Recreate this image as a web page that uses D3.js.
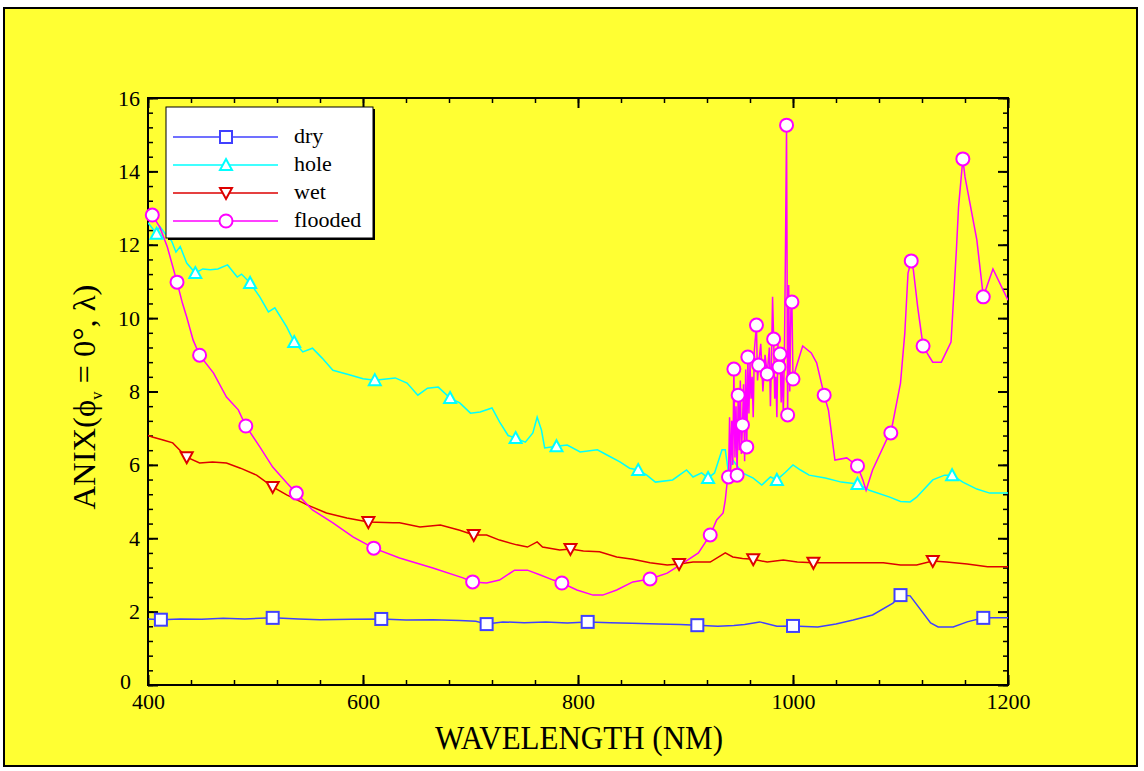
<!DOCTYPE html>
<html>
<head>
<meta charset="utf-8">
<script src="https://cdn.jsdelivr.net/npm/d3@7.9.0/dist/d3.min.js"></script>
<style>
  body { margin: 0; background: #fff; }
  svg { display: block; }
</style>
</head>
<body>
<svg id="chart" width="1144" height="771"></svg>
<script>
// series values: [wavelength nm, ANIX]
const seriesNames = ['dry', 'hole', 'wet', 'flooded'];

const dry = [
  [400,1.80],[412,1.78],[430,1.80],[450,1.79],[470,1.82],[490,1.80],[516,1.83],[540,1.80],
  [560,1.78],[590,1.79],[617,1.80],[640,1.77],[665,1.78],[690,1.76],[705,1.74],[715,1.66],
  [730,1.72],[750,1.70],[770,1.72],[790,1.69],[809,1.72],[830,1.70],[850,1.68],[875,1.66],
  [895,1.65],[911,1.63],[930,1.60],[945,1.62],[955,1.65],[969,1.72],[985,1.60],[1000,1.61],
  [1023,1.58],[1040,1.66],[1056,1.77],[1074,1.91],[1093,2.23],[1100,2.45],[1109,2.43],
  [1128,1.69],[1135,1.58],[1149,1.58],[1162,1.72],[1177,1.83],[1200,1.83]
];
const dryMarks = [412,516,617,715,809,911,1000,1100,1177];

const hole = [
  [400,12.6],[404,12.45],[408,12.3],[411,12.5],[416,12.3],[422,12.1],[426,11.8],[430,11.95],
  [436,11.5],[444,11.23],[451,11.34],[458,11.32],[465,11.34],[474,11.45],[483,11.12],[487,11.2],
  [495,10.96],[504,10.58],[512,10.17],[518,10.28],[529,9.76],[536,9.35],[544,9.08],[553,9.18],
  [562,8.91],[572,8.58],[588,8.45],[600,8.35],[611,8.31],[630,8.37],[641,8.23],[651,7.90],
  [660,8.09],[670,8.12],[681,7.82],[690,7.69],[700,7.41],[709,7.44],[720,7.55],[727,7.17],
  [735,6.80],[742,6.73],[751,6.62],[758,6.87],[762,7.30],[766,6.95],[769,6.46],[780,6.51],
  [790,6.54],[802,6.35],[818,6.41],[827,6.27],[839,6.08],[848,5.91],[856,5.86],[864,5.72],
  [872,5.53],[888,5.59],[901,5.86],[907,5.67],[915,5.78],[921,5.64],[927,5.78],[934,6.41],
  [937,6.41],[940,5.78],[944,6.13],[953,5.78],[963,5.64],[971,5.45],[979,5.67],[985,5.59],
  [993,5.80],[1000,6.00],[1007,5.86],[1015,5.72],[1030,5.64],[1045,5.53],[1060,5.48],
  [1071,5.31],[1090,5.12],[1100,5.00],[1109,4.99],[1115,5.12],[1130,5.59],[1141,5.72],
  [1148,5.72],[1158,5.53],[1171,5.34],[1183,5.23],[1200,5.23]
];
const holeMarks = [408,444,495,536,611,681,742,780,856,921,985,1060,1148];

const wet = [
  [400,6.80],[404,6.76],[414,6.68],[423,6.60],[436,6.21],[448,6.05],[460,6.08],[473,6.05],
  [486,5.91],[501,5.72],[516,5.40],[529,5.18],[548,4.91],[566,4.69],[585,4.55],[605,4.44],
  [628,4.42],[634,4.42],[653,4.31],[672,4.36],[690,4.22],[703,4.09],[715,4.09],[727,3.95],
  [743,3.82],[753,3.76],[762,3.90],[767,3.76],[783,3.68],[793,3.71],[805,3.65],[820,3.63],
  [836,3.49],[851,3.43],[867,3.33],[883,3.27],[894,3.30],[907,3.35],[923,3.35],[937,3.60],
  [944,3.49],[953,3.45],[963,3.43],[976,3.35],[991,3.41],[1004,3.35],[1019,3.33],[1050,3.33],
  [1084,3.33],[1100,3.27],[1115,3.27],[1130,3.38],[1143,3.35],[1162,3.30],[1181,3.22],[1200,3.22]
];
const wetMarks = [436,516,605,703,793,894,963,1019,1130];

const flooded = [
  [400,12.85],[404,12.81],[411,12.48],[418,11.94],[427,10.98],[432,10.41],[436,10.03],[442,9.40],
  [448,8.99],[461,8.50],[473,7.85],[484,7.50],[491,7.06],[504,6.49],[516,5.94],[529,5.51],
  [538,5.23],[553,4.77],[572,4.42],[591,4.03],[610,3.73],[634,3.46],[665,3.19],[693,2.92],
  [702,2.81],[715,2.78],[727,2.86],[741,3.13],[753,3.13],[765,3.00],[777,2.86],[785,2.78],
  [799,2.59],[814,2.45],[823,2.45],[836,2.59],[851,2.81],[867,2.89],[883,3.05],[898,3.33],
  [912,3.60],[923,4.09],[929,4.50],[935,4.69],[937,5.04],[939,5.59],
  [940,5.67],[941,7.3],[942,5.8],[943,7.2],[944,6.0],[945,8.61],[946,6.2],[947,7.6],[948,5.72],
  [949,7.90],[950,6.4],[951,8.3],[952,6.3],[953,7.09],[954,8.2],[955,6.1],[956,8.6],[957,6.49],
  [958,8.94],[959,7.4],[960,8.8],[961,7.8],[962,8.4],[963,7.3],[964,9.1],[966,9.81],[967,8.3],
  [968,8.72],[970,9.3],[972,8.0],[974,9.0],[976,8.48],[978,9.2],[979,7.6],[980,8.9],[981,10.58],
  [982,9.43],[983,7.8],[984,8.4],[985,7.3],[986,9.3],[987,8.67],[988,9.02],[989,7.7],[990,8.6],
  [991,7.4],[992,9.0],[993,11.9],[994,15.26],[995,7.36],[996,10.9],[997,8.0],[998,10.2],
  [999,10.44],[1000,8.34],[1003,8.67],[1009,9.24],[1017,9.05],[1022,8.78],[1029,7.90],
  [1033,7.49],[1039,6.13],[1050,6.19],[1060,5.97],[1065,5.59],[1068,5.31],[1074,5.86],
  [1087,6.68],[1091,6.87],[1100,8.23],[1104,9.59],[1107,11.23],[1110,11.56],[1112,11.31],
  [1116,10.30],[1121,9.24],[1127,8.94],[1130,8.80],[1138,8.80],[1147,9.35],[1152,11.86],
  [1154,13.03],[1158,14.34],[1160,13.85],[1171,12.13],[1176,10.85],[1177,10.58],[1186,11.34],
  [1200,10.49]
];
const floodedMarks = [404,427,448,491,538,610,702,785,867,923,940,945,948,949,953,957,958,966,
  968,976,982,987,988,994,995,999,1000,1029,1060,1091,1110,1121,1158,1177];

const xTicks = [400, 600, 800, 1000, 1200];
const yTicks = [0, 2, 4, 6, 8, 10, 12, 14, 16];

const colors = ['#4040ff', '#00ffff', '#dd0000', '#ff00ff'];
const shapes = ['square', 'up', 'down', 'circle'];

const serif = '"Liberation Serif", "Times New Roman", serif';

const svg = d3.select('#chart');

// background panel with black border
svg.append('rect')
  .attr('x', 4).attr('y', 8).attr('width', 1133).attr('height', 758)
  .attr('fill', '#ffff33').attr('stroke', '#000').attr('stroke-width', 2);

const x = d3.scaleLinear().domain([400, 1200]).range([148, 1008]);
const y = d3.scaleLinear().domain([0, 16]).range([685, 98]);

const xMinor = d3.range(400, 1201, 40);
const yMinor = d3.range(0, 16.01, 0.4);

function styleAxis(g) {
  g.select('.domain').remove();
  g.selectAll('text').attr('font-family', serif).attr('font-size', 22).attr('fill', '#000');
  g.selectAll('line').attr('stroke', '#000');
}

// minor ticks
svg.append('g').attr('transform', 'translate(0,685)')
  .call(d3.axisBottom(x).tickValues(xMinor).tickSize(-5).tickFormat(''))
  .call(styleAxis).selectAll('line').attr('stroke-width', 1.5);
svg.append('g').attr('transform', 'translate(0,98)')
  .call(d3.axisTop(x).tickValues(xMinor).tickSize(-5).tickFormat(''))
  .call(styleAxis).selectAll('line').attr('stroke-width', 1.5);
svg.append('g').attr('transform', 'translate(148,0)')
  .call(d3.axisLeft(y).tickValues(yMinor).tickSize(-5).tickFormat(''))
  .call(styleAxis).selectAll('line').attr('stroke-width', 1.5);
svg.append('g').attr('transform', 'translate(1008,0)')
  .call(d3.axisRight(y).tickValues(yMinor).tickSize(-5).tickFormat(''))
  .call(styleAxis).selectAll('line').attr('stroke-width', 1.5);

// major ticks with labels
svg.append('g').attr('transform', 'translate(0,685)')
  .call(d3.axisBottom(x).tickValues(xTicks).tickSizeInner(-10).tickSizeOuter(0).tickPadding(8).tickFormat(d3.format('d')))
  .call(styleAxis).selectAll('line').attr('stroke-width', 2);
svg.append('g').attr('transform', 'translate(0,98)')
  .call(d3.axisTop(x).tickValues(xTicks).tickSize(-10).tickFormat(''))
  .call(styleAxis).selectAll('line').attr('stroke-width', 2);
const yAxisG = svg.append('g').attr('transform', 'translate(148,0)')
  .call(d3.axisLeft(y).tickValues(yTicks).tickSizeInner(-10).tickSizeOuter(0).tickPadding(8).tickFormat(d3.format('d')))
  .call(styleAxis);
yAxisG.selectAll('line').attr('stroke-width', 2);
// the zero label is nudged up and left so it clears the "400" below it
yAxisG.selectAll('text').filter(d => d === 0).attr('dy', '0.18em').attr('dx', -9);
svg.append('g').attr('transform', 'translate(1008,0)')
  .call(d3.axisRight(y).tickValues(yTicks).tickSize(-10).tickFormat(''))
  .call(styleAxis).selectAll('line').attr('stroke-width', 2);

// plot frame
svg.append('rect')
  .attr('x', 148).attr('y', 98).attr('width', 860).attr('height', 587)
  .attr('fill', 'none').attr('stroke', '#000').attr('stroke-width', 2);

// axis titles
svg.append('text')
  .attr('x', 579).attr('y', 749)
  .attr('text-anchor', 'middle')
  .attr('font-family', serif).attr('font-size', 34)
  .attr('textLength', 288).attr('lengthAdjust', 'spacingAndGlyphs')
  .text('WAVELENGTH (NM)');

const yTitle = svg.append('text')
  .attr('transform', 'translate(95,397) rotate(-90)')
  .attr('text-anchor', 'middle')
  .attr('font-family', serif).attr('font-size', 32)
  .attr('textLength', 225).attr('lengthAdjust', 'spacingAndGlyphs');
yTitle.append('tspan').text('ANIX(\u03D5');
yTitle.append('tspan').attr('font-size', 16).attr('dy', 7).text('v');
yTitle.append('tspan').attr('dy', -7).text(' = 0\u00B0, \u03BB)');

svg.append('clipPath').attr('id', 'plot-clip')
  .append('rect').attr('x', 148).attr('y', 98).attr('width', 860).attr('height', 587);

const line = d3.line().x(d => x(d[0])).y(d => y(d[1]));

function marker(g, shape, color) {
  if (shape === 'square') {
    g.append('rect').attr('x', -6).attr('y', -6).attr('width', 12).attr('height', 12);
  } else if (shape === 'circle') {
    g.append('circle').attr('r', 6.5);
  } else if (shape === 'up') {
    g.append('path').attr('d', 'M0,-6L6,5L-6,5Z');
  } else {
    g.append('path').attr('d', 'M0,6L6,-5L-6,-5Z');
  }
  g.selectAll('*').attr('fill', '#fff').attr('stroke', color).attr('stroke-width', 2);
}

const allSeries = [dry, hole, wet, flooded];
const allMarks = [dryMarks, holeMarks, wetMarks, floodedMarks];

const plot = svg.append('g').attr('clip-path', 'url(#plot-clip)');

allSeries.forEach((data, idx) => {
  plot.append('path')
    .attr('d', line(data))
    .attr('fill', 'none')
    .attr('stroke', colors[idx])
    .attr('stroke-width', 1.5);
});

allSeries.forEach((data, idx) => {
  const pts = data.filter(d => allMarks[idx].includes(d[0]));
  pts.forEach(d => {
    const g = svg.append('g').attr('transform', `translate(${x(d[0])},${y(d[1])})`);
    marker(g, shapes[idx], colors[idx]);
  });
});

// legend
const legend = svg.append('g');
legend.append('rect')
  .attr('x', 168).attr('y', 109).attr('width', 207).attr('height', 131)
  .attr('fill', '#000');
legend.append('rect')
  .attr('x', 166).attr('y', 107).attr('width', 207).attr('height', 131)
  .attr('fill', '#fff').attr('stroke', '#000').attr('stroke-width', 1);

seriesNames.forEach((name, idx) => {
  const ly = 137 + idx * 28;
  legend.append('line')
    .attr('x1', 173).attr('x2', 278).attr('y1', ly).attr('y2', ly)
    .attr('stroke', colors[idx]).attr('stroke-width', 1.5);
  const g = legend.append('g').attr('transform', `translate(226,${ly})`);
  marker(g, shapes[idx], colors[idx]);
  legend.append('text')
    .attr('x', 294).attr('y', ly + 6)
    .attr('font-family', serif).attr('font-size', 22)
    .text(name);
});
</script>
</body>
</html>
